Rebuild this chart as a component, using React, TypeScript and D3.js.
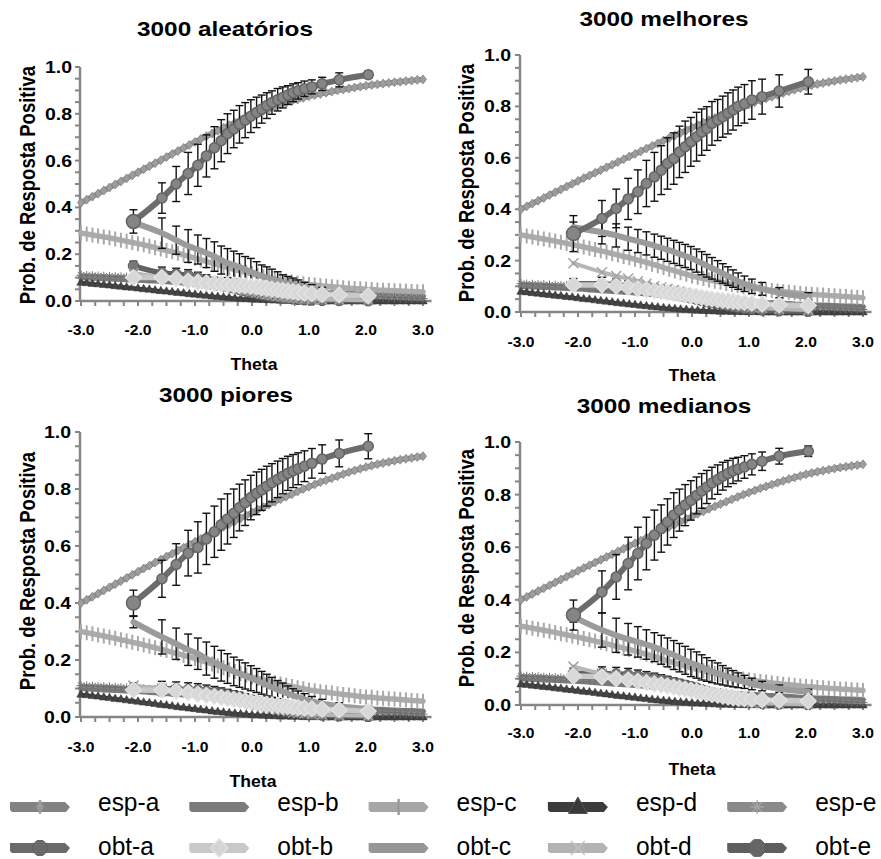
import React from "react";
import * as d3 from "d3";

// ---------------- DATA ----------------
const espTheta = [
  -3.0, -2.9, -2.8, -2.7, -2.6, -2.5, -2.4, -2.3, -2.2, -2.1,
  -2.0, -1.9, -1.8, -1.7, -1.6, -1.5, -1.4, -1.3, -1.2, -1.1,
  -1.0, -0.9, -0.8, -0.7, -0.6, -0.5, -0.4, -0.3, -0.2, -0.1,
  0.0, 0.1, 0.2, 0.3, 0.4, 0.5, 0.6, 0.7, 0.8, 0.9,
  1.0, 1.1, 1.2, 1.3, 1.4, 1.5, 1.6, 1.7, 1.8, 1.9,
  2.0, 2.1, 2.2, 2.3, 2.4, 2.5, 2.6, 2.7, 2.8, 2.9,
  3.0,
];

const obtTheta = [
  -2.08, -1.58, -1.33, -1.12, -0.95, -0.8, -0.66, -0.54, -0.43, -0.32,
  -0.22, -0.12, -0.02, 0.08, 0.17, 0.26, 0.35, 0.45, 0.54, 0.63,
  0.72, 0.81, 0.92, 1.05, 1.23, 1.53, 2.04,
];

const espA_aleatorios = [
  0.420, 0.433, 0.446, 0.459, 0.472, 0.485, 0.498, 0.511, 0.524, 0.537,
  0.550, 0.563, 0.576, 0.589, 0.602, 0.615, 0.628, 0.641, 0.654, 0.667,
  0.680, 0.692, 0.704, 0.716, 0.728, 0.740, 0.751, 0.762, 0.773, 0.784,
  0.795, 0.804, 0.813, 0.822, 0.831, 0.840, 0.847, 0.854, 0.861, 0.868,
  0.875, 0.880, 0.885, 0.890, 0.895, 0.900, 0.904, 0.908, 0.912, 0.916,
  0.920, 0.923, 0.926, 0.929, 0.932, 0.935, 0.937, 0.940, 0.942, 0.945,
  0.947,
];
const espA_outros = [
  0.400, 0.411, 0.422, 0.433, 0.444, 0.455, 0.466, 0.477, 0.488, 0.499,
  0.510, 0.521, 0.531, 0.542, 0.552, 0.563, 0.573, 0.584, 0.594, 0.605,
  0.615, 0.625, 0.636, 0.646, 0.656, 0.667, 0.677, 0.687, 0.697, 0.707,
  0.717, 0.727, 0.736, 0.746, 0.755, 0.764, 0.773, 0.782, 0.791, 0.800,
  0.808, 0.816, 0.824, 0.831, 0.838, 0.845, 0.852, 0.859, 0.865, 0.871,
  0.877, 0.882, 0.887, 0.891, 0.895, 0.899, 0.903, 0.906, 0.909, 0.912,
  0.915,
];
const espB = [
  0.100, 0.099, 0.098, 0.097, 0.096, 0.095, 0.094, 0.093, 0.092, 0.091,
  0.090, 0.089, 0.087, 0.086, 0.084, 0.083, 0.081, 0.080, 0.078, 0.077,
  0.075, 0.073, 0.071, 0.069, 0.067, 0.065, 0.063, 0.061, 0.059, 0.057,
  0.055, 0.053, 0.052, 0.050, 0.049, 0.047, 0.046, 0.044, 0.043, 0.041,
  0.040, 0.039, 0.038, 0.036, 0.035, 0.034, 0.033, 0.032, 0.030, 0.029,
  0.028, 0.027, 0.026, 0.026, 0.025, 0.024, 0.023, 0.022, 0.022, 0.021,
  0.020,
];
const espC_aleatorios = [
  0.290, 0.286, 0.282, 0.278, 0.274, 0.270, 0.265, 0.260, 0.255, 0.250,
  0.245, 0.240, 0.234, 0.228, 0.222, 0.216, 0.210, 0.204, 0.197, 0.190,
  0.183, 0.176, 0.169, 0.162, 0.155, 0.148, 0.141, 0.134, 0.128, 0.122,
  0.116, 0.110, 0.104, 0.099, 0.094, 0.089, 0.085, 0.081, 0.077, 0.074,
  0.071, 0.068, 0.065, 0.063, 0.061, 0.059, 0.057, 0.055, 0.053, 0.052,
  0.050, 0.049, 0.047, 0.046, 0.045, 0.044, 0.043, 0.042, 0.041, 0.040,
  0.039,
];
const espC_outros = [
  0.300, 0.296, 0.292, 0.288, 0.284, 0.280, 0.276, 0.271, 0.267, 0.262,
  0.258, 0.253, 0.248, 0.243, 0.238, 0.233, 0.227, 0.222, 0.216, 0.211,
  0.205, 0.199, 0.193, 0.186, 0.180, 0.173, 0.166, 0.160, 0.153, 0.147,
  0.140, 0.135, 0.130, 0.125, 0.120, 0.116, 0.111, 0.107, 0.103, 0.099,
  0.095, 0.092, 0.089, 0.087, 0.084, 0.082, 0.079, 0.077, 0.075, 0.072,
  0.070, 0.069, 0.067, 0.066, 0.064, 0.063, 0.061, 0.060, 0.058, 0.057,
  0.055,
];
const espD = [
  0.080, 0.078, 0.075, 0.073, 0.070, 0.068, 0.065, 0.063, 0.060, 0.058,
  0.055, 0.052, 0.050, 0.047, 0.044, 0.042, 0.039, 0.036, 0.034, 0.031,
  0.029, 0.026, 0.024, 0.021, 0.019, 0.017, 0.015, 0.013, 0.011, 0.010,
  0.008, 0.007, 0.006, 0.005, 0.004, 0.003, 0.003, 0.002, 0.002, 0.001,
  0.001, 0.001, 0.001, 0.000, 0.000, 0.000, 0.000, 0.000, 0.000, 0.000,
  0.000, 0.000, 0.000, 0.000, 0.000, 0.000, 0.000, 0.000, 0.000, 0.000,
  0.000,
];
const espE = [
  0.110, 0.109, 0.108, 0.107, 0.106, 0.105, 0.104, 0.103, 0.102, 0.101,
  0.100, 0.099, 0.097, 0.096, 0.094, 0.093, 0.091, 0.090, 0.088, 0.087,
  0.085, 0.083, 0.080, 0.078, 0.075, 0.073, 0.070, 0.067, 0.065, 0.062,
  0.060, 0.057, 0.055, 0.052, 0.050, 0.047, 0.045, 0.042, 0.040, 0.037,
  0.035, 0.033, 0.032, 0.030, 0.029, 0.027, 0.026, 0.024, 0.023, 0.021,
  0.020, 0.019, 0.018, 0.017, 0.016, 0.015, 0.014, 0.013, 0.012, 0.011,
  0.010,
];

// panel 1: 3000 aleatórios
const obtA_aleatorios = [0.34, 0.44, 0.50, 0.545, 0.58, 0.62, 0.655, 0.685, 0.715, 0.735, 0.755, 0.773, 0.79, 0.806, 0.82, 0.835, 0.848, 0.86, 0.87, 0.88, 0.89, 0.898, 0.907, 0.915, 0.928, 0.945, 0.967];
const errA_aleatorios = [0.05, 0.065, 0.075, 0.09, 0.09, 0.09, 0.09, 0.09, 0.085, 0.08, 0.08, 0.075, 0.07, 0.065, 0.06, 0.055, 0.05, 0.048, 0.045, 0.04, 0.038, 0.035, 0.033, 0.03, 0.028, 0.03, 0.015];
const obtB_aleatorios = [0.10, 0.10, 0.095, 0.085, 0.08, 0.077, 0.075, 0.073, 0.07, 0.068, 0.066, 0.064, 0.062, 0.06, 0.057, 0.054, 0.051, 0.048, 0.045, 0.042, 0.04, 0.037, 0.034, 0.031, 0.028, 0.026, 0.022];
const obtC_aleatorios = [0.335, 0.29, 0.26, 0.235, 0.22, 0.205, 0.19, 0.175, 0.162, 0.153, 0.145, 0.135, 0.125, 0.115, 0.107, 0.10, 0.093, 0.087, 0.08, 0.075, 0.07, 0.065, 0.058, 0.05, 0.04, 0.03, 0.02];
const errC_aleatorios = [0.02, 0.065, 0.06, 0.07, 0.062, 0.062, 0.063, 0.06, 0.062, 0.06, 0.057, 0.055, 0.057, 0.053, 0.047, 0.046, 0.043, 0.038, 0.032, 0.03, 0.028, 0.025, 0.022, 0.02, 0.018, 0.015, 0.01];
const obtD_aleatorios = [0.12, 0.1, 0.09, 0.085, 0.08, 0.075, 0.07, 0.065, 0.06, 0.055, 0.05, 0.045, 0.04, 0.036, 0.032, 0.028, 0.025, 0.022, 0.019, 0.016, 0.014, 0.012, 0.01, 0.008, 0.006, 0.005, 0.003];
const obtE_aleatorios = [0.15, 0.12, 0.115, 0.11, 0.1, 0.09, 0.08, 0.072, 0.064, 0.056, 0.05, 0.044, 0.038, 0.033, 0.028, 0.024, 0.02, 0.017, 0.014, 0.011, 0.009, 0.007, 0.005, 0.004, 0.003, 0.002, 0.001];

// panel 2: 3000 melhores
const obtA_melhores = [0.305, 0.364, 0.403, 0.44, 0.468, 0.50, 0.526, 0.552, 0.578, 0.597, 0.623, 0.643, 0.662, 0.682, 0.70, 0.714, 0.734, 0.747, 0.76, 0.773, 0.786, 0.80, 0.81, 0.825, 0.838, 0.86, 0.896];
const errA_melhores = [0.07, 0.07, 0.075, 0.08, 0.085, 0.09, 0.095, 0.095, 0.1, 0.1, 0.1, 0.1, 0.095, 0.095, 0.09, 0.085, 0.085, 0.08, 0.08, 0.08, 0.078, 0.075, 0.075, 0.075, 0.068, 0.063, 0.048];
const obtB_melhores = [0.105, 0.105, 0.1, 0.095, 0.09, 0.086, 0.082, 0.078, 0.075, 0.072, 0.069, 0.066, 0.063, 0.06, 0.057, 0.054, 0.051, 0.048, 0.045, 0.043, 0.041, 0.039, 0.037, 0.034, 0.031, 0.028, 0.025];
const obtC_melhores = [0.33, 0.31, 0.298, 0.285, 0.276, 0.267, 0.258, 0.25, 0.242, 0.234, 0.226, 0.218, 0.21, 0.2, 0.19, 0.18, 0.17, 0.16, 0.15, 0.14, 0.13, 0.12, 0.11, 0.1, 0.09, 0.075, 0.06];
const errC_melhores = [0.02, 0.045, 0.045, 0.045, 0.045, 0.045, 0.045, 0.045, 0.045, 0.045, 0.045, 0.045, 0.045, 0.045, 0.045, 0.044, 0.042, 0.04, 0.038, 0.036, 0.034, 0.032, 0.03, 0.028, 0.025, 0.02, 0.015];
const obtD_melhores = [0.19, 0.155, 0.14, 0.13, 0.12, 0.11, 0.1, 0.095, 0.09, 0.085, 0.08, 0.075, 0.07, 0.065, 0.06, 0.055, 0.05, 0.045, 0.04, 0.036, 0.032, 0.028, 0.024, 0.02, 0.016, 0.012, 0.008];
const obtE_melhores = [0.11, 0.11, 0.105, 0.1, 0.095, 0.09, 0.085, 0.08, 0.075, 0.07, 0.065, 0.06, 0.055, 0.05, 0.045, 0.04, 0.036, 0.032, 0.028, 0.024, 0.02, 0.017, 0.014, 0.011, 0.008, 0.005, 0.003];

// panel 3: 3000 piores
const obtA_piores = [0.40, 0.485, 0.535, 0.575, 0.595, 0.625, 0.65, 0.675, 0.695, 0.715, 0.735, 0.752, 0.77, 0.785, 0.797, 0.81, 0.822, 0.834, 0.845, 0.855, 0.863, 0.871, 0.88, 0.89, 0.905, 0.925, 0.95];
const errA_piores = [0.045, 0.065, 0.073, 0.08, 0.09, 0.09, 0.09, 0.09, 0.088, 0.085, 0.082, 0.08, 0.078, 0.075, 0.072, 0.07, 0.067, 0.064, 0.062, 0.06, 0.058, 0.056, 0.054, 0.052, 0.05, 0.047, 0.044];
const obtB_piores = [0.095, 0.094, 0.09, 0.085, 0.08, 0.076, 0.072, 0.068, 0.065, 0.062, 0.059, 0.056, 0.053, 0.05, 0.047, 0.045, 0.043, 0.041, 0.039, 0.037, 0.035, 0.033, 0.031, 0.029, 0.027, 0.025, 0.02];
const obtC_piores = [0.333, 0.281, 0.257, 0.236, 0.222, 0.205, 0.192, 0.18, 0.17, 0.16, 0.152, 0.144, 0.136, 0.128, 0.12, 0.112, 0.104, 0.096, 0.089, 0.082, 0.075, 0.069, 0.062, 0.055, 0.047, 0.038, 0.028];
const errC_piores = [0.02, 0.06, 0.055, 0.055, 0.055, 0.058, 0.056, 0.054, 0.052, 0.05, 0.048, 0.046, 0.044, 0.042, 0.04, 0.038, 0.035, 0.032, 0.03, 0.027, 0.024, 0.022, 0.02, 0.017, 0.015, 0.012, 0.01];
const obtD_piores = [0.11, 0.1, 0.095, 0.09, 0.085, 0.08, 0.075, 0.07, 0.065, 0.06, 0.055, 0.05, 0.045, 0.04, 0.036, 0.032, 0.028, 0.025, 0.022, 0.019, 0.016, 0.014, 0.012, 0.01, 0.008, 0.006, 0.004];
const obtE_piores = [0.10, 0.1, 0.098, 0.096, 0.094, 0.09, 0.086, 0.082, 0.078, 0.074, 0.07, 0.065, 0.06, 0.055, 0.05, 0.045, 0.04, 0.035, 0.03, 0.026, 0.022, 0.018, 0.014, 0.01, 0.007, 0.004, 0.002];

// panel 4: 3000 medianos
const obtA_medianos = [0.342, 0.43, 0.487, 0.538, 0.576, 0.614, 0.646, 0.671, 0.696, 0.722, 0.741, 0.76, 0.778, 0.797, 0.814, 0.829, 0.844, 0.857, 0.87, 0.88, 0.89, 0.897, 0.905, 0.915, 0.927, 0.946, 0.965];
const errA_medianos = [0.057, 0.08, 0.085, 0.1, 0.1, 0.1, 0.095, 0.09, 0.088, 0.085, 0.08, 0.078, 0.075, 0.07, 0.066, 0.063, 0.06, 0.056, 0.053, 0.05, 0.048, 0.045, 0.043, 0.04, 0.035, 0.03, 0.02];
const obtB_medianos = [0.11, 0.107, 0.1, 0.095, 0.09, 0.085, 0.08, 0.076, 0.072, 0.068, 0.064, 0.06, 0.056, 0.052, 0.048, 0.044, 0.04, 0.037, 0.034, 0.031, 0.028, 0.026, 0.024, 0.022, 0.02, 0.018, 0.015];
const obtC_medianos = [0.335, 0.285, 0.265, 0.25, 0.24, 0.23, 0.22, 0.21, 0.2, 0.19, 0.18, 0.17, 0.16, 0.152, 0.143, 0.135, 0.127, 0.12, 0.113, 0.106, 0.1, 0.094, 0.088, 0.08, 0.072, 0.062, 0.05];
const errC_medianos = [0.02, 0.065, 0.065, 0.06, 0.058, 0.056, 0.055, 0.055, 0.055, 0.055, 0.054, 0.053, 0.052, 0.05, 0.048, 0.045, 0.042, 0.04, 0.037, 0.034, 0.031, 0.028, 0.025, 0.022, 0.018, 0.014, 0.01];
const obtD_medianos = [0.146, 0.12, 0.11, 0.1, 0.095, 0.09, 0.085, 0.08, 0.075, 0.07, 0.065, 0.06, 0.055, 0.05, 0.045, 0.04, 0.035, 0.03, 0.026, 0.022, 0.018, 0.015, 0.012, 0.009, 0.007, 0.005, 0.003];
const obtE_medianos = [0.12, 0.12, 0.118, 0.115, 0.11, 0.105, 0.1, 0.095, 0.09, 0.085, 0.08, 0.075, 0.07, 0.064, 0.058, 0.052, 0.046, 0.04, 0.034, 0.028, 0.023, 0.018, 0.014, 0.01, 0.007, 0.004, 0.002];

const errE_todos = [0.02, 0.025, 0.025, 0.024, 0.023, 0.022, 0.021, 0.02, 0.019, 0.018, 0.017, 0.016, 0.015, 0.014, 0.013, 0.012, 0.011, 0.01, 0.009, 0.008, 0.007, 0.006, 0.005, 0.004, 0.003, 0.002, 0.002];

const panelTitles = ["3000 aleatórios", "3000 melhores", "3000 piores", "3000 medianos"];
const yTickValues = [0, 0.2, 0.4, 0.6, 0.8, 1.0];
const xTickValues = [-3, -2, -1, 0, 1, 2, 3];
const espLabels = ["esp-a", "esp-b", "esp-c", "esp-d", "esp-e"];
const obtLabels = ["obt-a", "obt-b", "obt-c", "obt-d", "obt-e"];
const xTitle = "Theta";
const yTitle = "Prob. de Resposta Positiva";

const panelData = [
  { espA: espA_aleatorios, espC: espC_aleatorios, obtA: obtA_aleatorios, errA: errA_aleatorios, obtB: obtB_aleatorios, obtC: obtC_aleatorios, errC: errC_aleatorios, obtD: obtD_aleatorios, obtE: obtE_aleatorios },
  { espA: espA_outros, espC: espC_outros, obtA: obtA_melhores, errA: errA_melhores, obtB: obtB_melhores, obtC: obtC_melhores, errC: errC_melhores, obtD: obtD_melhores, obtE: obtE_melhores },
  { espA: espA_outros, espC: espC_outros, obtA: obtA_piores, errA: errA_piores, obtB: obtB_piores, obtC: obtC_piores, errC: errC_piores, obtD: obtD_piores, obtE: obtE_piores },
  { espA: espA_outros, espC: espC_outros, obtA: obtA_medianos, errA: errA_medianos, obtB: obtB_medianos, obtC: obtC_medianos, errC: errC_medianos, obtD: obtD_medianos, obtE: obtE_medianos },
];

// ---------------- LAYOUT / STYLE ----------------
const layouts = [
  { x0: 81, x1: 423, y0: 301, y1: 67, tx: 225, ty: 36, yt: [27, 185], ytr: 72, xlb: 335, th: [254, 370] },
  { x0: 521, x1: 863, y0: 312, y1: 55, tx: 664, ty: 26, yt: [466, 183], ytr: 511, xlb: 347, th: [692, 381] },
  { x0: 81, x1: 423, y0: 717, y1: 432, tx: 226, ty: 402, yt: [27, 571], ytr: 71, xlb: 752, th: [253, 787] },
  { x0: 521, x1: 863, y0: 705, y1: 442, tx: 664, ty: 413, yt: [466, 568], ytr: 511, xlb: 738, th: [692, 775] },
];

const FONT = "'Liberation Sans', Arial, Helvetica, sans-serif";
const SX = 1.16;
const AXIS = "#868686";

const circ = (r: number) => `M${r},0A${r},${r} 0 1,1 ${-r},0A${r},${r} 0 1,1 ${r},0Z`;
const diamond = (w: number, h: number) => `M0,${-h}L${w},0L0,${h}L${-w},0Z`;
const tri = (s: number) => `M0,${-s}L${s * 0.95},${s * 0.65}L${-s * 0.95},${s * 0.65}Z`;
const plus = (v: number, h: number) => `M0,${-v}V${v}M${-h},0H${h}`;
const cross = (r: number) => `M${-r},${-r}L${r},${r}M${-r},${r}L${r},${-r}`;
const star = (r: number) => {
  let s = "";
  for (let k = 0; k < 4; k++) {
    const a = (k * Math.PI) / 4;
    s += `M${-r * Math.sin(a)},${-r * Math.cos(a)}L${r * Math.sin(a)},${r * Math.cos(a)}`;
  }
  return s;
};
const oct = (r: number) => {
  const p: string[] = [];
  for (let k = 0; k < 8; k++) {
    const a = (k * Math.PI) / 4 + Math.PI / 8;
    p.push(`${r * Math.cos(a)},${r * Math.sin(a)}`);
  }
  return `M${p.join("L")}Z`;
};

type Sty = {
  color: string;
  width: number;
  marker?: (i: number) => string;
  mFill?: string;
  mStroke?: string;
  mW?: number;
  curve?: boolean;
};

const S: Record<string, Sty> = {
  espA: { color: "#878787", width: 5.5, marker: () => diamond(3.5, 4.5), mFill: "#9d9d9d", mStroke: "#868686", mW: 0.8 },
  espB: { color: "#7b7b7b", width: 5.5 },
  espC: { color: "#acacac", width: 5.5, marker: () => plus(7.5, 2), mFill: "none", mStroke: "#a9a9a9", mW: 2 },
  espD: { color: "#3d3d3d", width: 3, marker: () => tri(4.5), mFill: "#444444", mStroke: "#333333", mW: 0.5 },
  espE: { color: "#8e8e8e", width: 4, marker: () => star(4.5), mFill: "none", mStroke: "#6f6f6f", mW: 1 },
  obtA: { color: "#6c6c6c", width: 6, marker: (i) => circ(i === 0 ? 7 : 5), mFill: "#858585", mStroke: "#646464", mW: 1.5, curve: true },
  obtB: { color: "#c8c8c8", width: 5.5, marker: () => diamond(8, 8), mFill: "#d8d8d8", mStroke: "#e4e4e4", mW: 1.2, curve: true },
  obtC: { color: "#9b9b9b", width: 6, curve: true },
  obtD: { color: "#b6b6b6", width: 4, marker: () => cross(5), mFill: "none", mStroke: "#a3a3a3", mW: 1.5, curve: true },
  obtE: { color: "#626262", width: 5.5, marker: () => oct(5.5), mFill: "#777777", mStroke: "#5a5a5a", mW: 1, curve: true },
};

// legend swatch markers (bigger)
const L: Record<string, { bar: string; marker?: string; mFill?: string; mStroke?: string; mW?: number }> = {
  espA: { bar: "#828282", marker: diamond(4, 7), mFill: "#9a9a9a", mStroke: "#8a8a8a", mW: 0.8 },
  espB: { bar: "#7b7b7b" },
  espC: { bar: "#a6a6a6", marker: plus(8, 1), mFill: "none", mStroke: "#9a9a9a", mW: 2.5 },
  espD: { bar: "#3c3c3c", marker: tri(10), mFill: "#3a3a3a", mStroke: "#555555", mW: 1 },
  espE: { bar: "#8a8a8a", marker: star(7), mFill: "none", mStroke: "#a5a5a5", mW: 1.3 },
  obtA: { bar: "#6a6a6a", marker: oct(8), mFill: "#6a6a6a", mStroke: "#5e5e5e", mW: 1 },
  obtB: { bar: "#c8c8c8", marker: diamond(9, 9), mFill: "#d4d4d4", mStroke: "#e0e0e0", mW: 1.2 },
  obtC: { bar: "#979797" },
  obtD: { bar: "#b3b3b3", marker: cross(7), mFill: "none", mStroke: "#c2c2c2", mW: 1.5 },
  obtE: { bar: "#5e5e5e", marker: oct(9), mFill: "#666666", mStroke: "#5a5a5a", mW: 1 },
};

function Txt(props: {
  x: number; y: number; size: number; children: React.ReactNode;
  anchor?: string; weight?: string | number; sx?: number; rot?: number; dy?: string;
}) {
  const { x, y, size, children, anchor = "middle", weight = "bold", sx = SX, rot = 0, dy } = props;
  return (
    <text
      transform={`translate(${x},${y}) scale(${sx},1)${rot ? ` rotate(${rot})` : ""}`}
      textAnchor={anchor as any}
      fontFamily={FONT}
      fontSize={size}
      fontWeight={weight as any}
      dy={dy}
      fill="#000"
    >
      {children}
    </text>
  );
}

function Series({ xs, ys, sty, x, y }: { xs: number[]; ys: number[]; sty: Sty; x: any; y: any }) {
  const pts: [number, number][] = xs.map((t, i) => [t, ys[i]]);
  const gen = d3
    .line<[number, number]>()
    .x((p) => x(p[0]))
    .y((p) => y(p[1]));
  if (sty.curve) gen.curve(d3.curveMonotoneX);
  return (
    <g>
      <path d={gen(pts) || ""} fill="none" stroke={sty.color} strokeWidth={sty.width} strokeLinejoin="round" strokeLinecap="round" />
      {sty.marker &&
        pts.map((p, i) => (
          <path
            key={i}
            transform={`translate(${x(p[0])},${y(p[1])})`}
            d={sty.marker!(i)}
            fill={sty.mFill}
            stroke={sty.mStroke}
            strokeWidth={sty.mW}
          />
        ))}
    </g>
  );
}

function ErrBars({ xs, ys, es, x, y }: { xs: number[]; ys: number[]; es: number[]; x: any; y: any }) {
  return (
    <g stroke="#111" strokeWidth={1.4}>
      {xs.map((t, i) => {
        const cx = x(t);
        const top = y(ys[i] + es[i]);
        const bot = y(ys[i] - es[i]);
        return (
          <g key={i}>
            <line x1={cx} x2={cx} y1={top} y2={bot} />
            <line x1={cx - 4} x2={cx + 4} y1={top} y2={top} />
            <line x1={cx - 4} x2={cx + 4} y1={bot} y2={bot} />
          </g>
        );
      })}
    </g>
  );
}

function Panel({ idx }: { idx: number }) {
  const lay = layouts[idx];
  const dat = panelData[idx];
  const x = d3.scaleLinear().domain([-3, 3]).range([lay.x0, lay.x1]);
  const y = d3.scaleLinear().domain([0, 1]).range([lay.y0, lay.y1]);
  const ax = lay.x0 - 1;
  const minorY = d3.range(0, 1.0001, 0.05);
  const minorX = d3.range(-3, 3.001, 0.25);
  return (
    <g>
      <Txt x={lay.tx} y={lay.ty} size={21}>{panelTitles[idx]}</Txt>
      <Txt x={lay.yt[0]} y={lay.yt[1]} size={18.5} rot={-90} dy="0.35em">{yTitle}</Txt>
      <Txt x={lay.th[0]} y={lay.th[1]} size={16} sx={1.1}>{xTitle}</Txt>

      {/* axes */}
      <line x1={ax} x2={ax} y1={y(0)} y2={y(1)} stroke={AXIS} strokeWidth={2.5} />
      <line x1={ax} x2={x(3.15)} y1={y(0)} y2={y(0)} stroke={AXIS} strokeWidth={2.5} />
      {minorY.map((v, i) => (
        <line key={"my" + i} x1={ax - 5} x2={ax} y1={y(v)} y2={y(v)} stroke={AXIS} strokeWidth={2} />
      ))}
      {minorX.map((v, i) => (
        <line key={"mx" + i} x1={x(v)} x2={x(v)} y1={y(0)} y2={y(0) + 5} stroke={AXIS} strokeWidth={2} />
      ))}
      {yTickValues.map((v) => (
        <Txt key={"yt" + v} x={lay.ytr} y={y(v)} size={16.5} anchor="end" dy="0.36em" sx={1.18}>
          {v.toFixed(1)}
        </Txt>
      ))}
      {xTickValues.map((v) => (
        <Txt key={"xt" + v} x={x(v)} y={lay.xlb} size={14} sx={1.12}>
          {v.toFixed(1)}
        </Txt>
      ))}

      {/* expected curves */}
      <Series xs={espTheta} ys={dat.espA} sty={S.espA} x={x} y={y} />
      <Series xs={espTheta} ys={espB} sty={S.espB} x={x} y={y} />
      <Series xs={espTheta} ys={dat.espC} sty={S.espC} x={x} y={y} />
      <Series xs={espTheta} ys={espD} sty={S.espD} x={x} y={y} />
      <Series xs={espTheta} ys={espE} sty={S.espE} x={x} y={y} />

      {/* error bars */}
      <ErrBars xs={obtTheta} ys={dat.obtA} es={dat.errA} x={x} y={y} />
      <ErrBars xs={obtTheta} ys={dat.obtC} es={dat.errC} x={x} y={y} />
      <ErrBars xs={obtTheta} ys={dat.obtE} es={errE_todos} x={x} y={y} />

      {/* observed curves */}
      <Series xs={obtTheta} ys={dat.obtE} sty={S.obtE} x={x} y={y} />
      <Series xs={obtTheta} ys={dat.obtD} sty={S.obtD} x={x} y={y} />
      <Series xs={obtTheta} ys={dat.obtC} sty={S.obtC} x={x} y={y} />
      <Series xs={obtTheta} ys={dat.obtA} sty={S.obtA} x={x} y={y} />
      <Series xs={obtTheta} ys={dat.obtB} sty={S.obtB} x={x} y={y} />
    </g>
  );
}

function Legend() {
  const rows = [
    { labels: espLabels, keys: ["espA", "espB", "espC", "espD", "espE"], cy: 807, base: 811 },
    { labels: obtLabels, keys: ["obtA", "obtB", "obtC", "obtD", "obtE"], cy: 848, base: 855 },
  ];
  return (
    <g>
      {rows.map((r, ri) =>
        r.labels.map((lab, i) => {
          const sx0 = 10 + i * 179.3;
          const st = L[r.keys[i]];
          const cy = r.cy;
          const bar = `M${sx0},${cy - 5}L${sx0 + 55},${cy - 5}L${sx0 + 60},${cy}L${sx0 + 56},${cy + 5}L${sx0 + 2},${cy + 5}L${sx0},${cy + 3}Z`;
          return (
            <g key={ri + "-" + i}>
              <path d={bar} fill={st.bar} />
              {st.marker && (
                <path transform={`translate(${sx0 + 30},${cy})`} d={st.marker} fill={st.mFill} stroke={st.mStroke} strokeWidth={st.mW} />
              )}
              <Txt x={sx0 + 88} y={r.base} size={25} anchor="start" weight="normal" sx={0.98}>
                {lab}
              </Txt>
            </g>
          );
        })
      )}
    </g>
  );
}

export default function App() {
  return (
    <svg
      width={881}
      height={859}
      viewBox="0 0 881 859"
      style={{ position: "absolute", left: 0, top: 0, background: "#fff" }}
    >
      <rect x={0} y={0} width={881} height={859} fill="#fff" />
      {[0, 1, 2, 3].map((i) => (
        <Panel key={i} idx={i} />
      ))}
      <Legend />
    </svg>
  );
}
